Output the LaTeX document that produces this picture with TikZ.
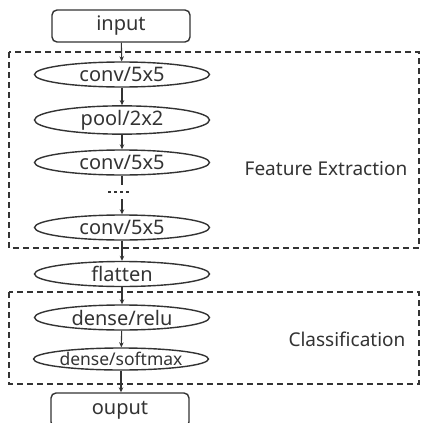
\documentclass[tikz,border=0pt]{standalone}
\usepackage{fontspec}
\setmainfont{Noto Sans}
\usetikzlibrary{shapes.geometric,arrows.meta}
\definecolor{ink}{HTML}{333333}
\begin{document}
\begin{tikzpicture}[x=1pt,y=-1pt,
  every node/.style={text=ink,font=\fontsize{19}{22}\selectfont},
  layer/.style={ellipse,draw=ink,line width=1.4pt,minimum width=175pt,minimum height=25pt,inner sep=0pt,font=\fontsize{20}{22}\selectfont},
  iobox/.style={rectangle,rounded corners=5pt,draw=ink,line width=1.4pt,minimum width=138pt,minimum height=32pt,inner sep=0pt,font=\fontsize{20}{22}\selectfont},
  group/.style={draw=ink,line width=1.3pt,dash pattern=on 6pt off 4pt},
  flow/.style={draw=ink,line width=1.1pt,-{Stealth[length=5pt,width=4.5pt]}},
  plain/.style={draw=ink,line width=1.1pt}]
\useasboundingbox (0,0) rectangle (421,423);
\fill[white] (0,0) rectangle (421,423);
\node[iobox] (in) at (121,26) {input};
\node[layer] (c1) at (122,74.5) {conv/5x5};
\node[layer] (p1) at (122,120) {pool/2x2};
\node[layer] (c2) at (122,162.5) {conv/5x5};
\coordinate (d1) at (122,185);
\coordinate (dl) at (108,192);
\coordinate (dr) at (132,192);
\coordinate (d2) at (122,199);
\node[layer] (c3) at (122,227.5) {conv/5x5};
\node[layer] (fl) at (122,274) {flatten};
\node[layer] (dr1) at (122,317.5) {dense/relu};
\node[layer,minimum height=22pt,font=\fontsize{17.5}{20}\selectfont] (ds) at (121,359) {dense/softmax};
\node[iobox,minimum height=34pt] (out) at (120,410) {ouput};
\node (fe) at (326,169) {Feature Extraction};
\node (cl) at (347,339) {Classification};
\coordinate (g1a) at (9,52);
\coordinate (g1b) at (419,248);
\coordinate (g2a) at (9,292);
\coordinate (g2b) at (419,384);
\draw[group] (g1a) rectangle (g1b);
\draw[group] (g2a) rectangle (g2b);
\draw[flow] (in) -- (c1);
\draw[flow] (c1) -- (p1);
\draw[flow] (p1) -- (c2);
\draw[plain] (c2) -- (d1);
\draw[plain,dash pattern=on 3pt off 3pt] (dl) -- (dr);
\draw[flow] (d2) -- (c3);
\draw[flow] (c3) -- (fl);
\draw[flow] (fl) -- (dr1);
\draw[flow] (dr1) -- (ds);
\draw[flow] (ds.south) -- (out.north -| ds.south);
\end{tikzpicture}
\end{document}
